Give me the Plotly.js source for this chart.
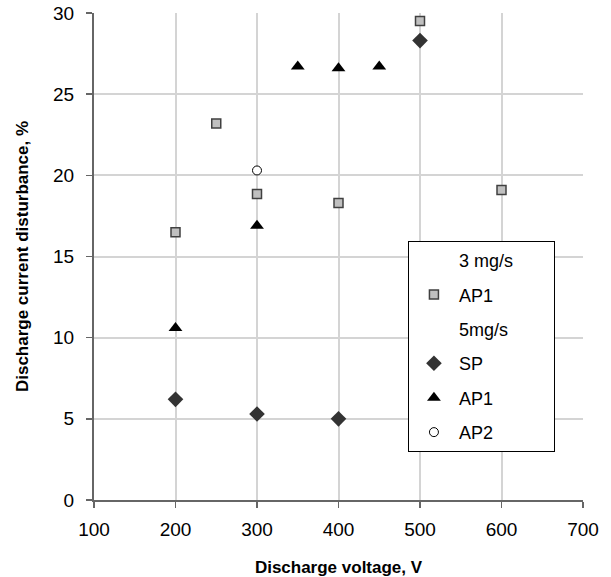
<!DOCTYPE html>
<html><head><meta charset="utf-8">
<script src="https://cdn.plot.ly/plotly-3.0.1.min.js"></script>
<style>body{margin:0;background:#fff}#c{width:611px;height:577px}</style>
</head><body><div id="c"></div>
<script>
const ap1_3_x = [200, 250, 300, 400, 500, 600];
const ap1_3_y = [16.5, 23.2, 18.85, 18.3, 29.5, 19.1];
const sp_5_x = [200, 300, 400, 500];
const sp_5_y = [6.2, 5.3, 5.0, 28.3];
const ap1_5_x = [200, 300, 350, 400, 450];
const ap1_5_y = [10.6, 16.9, 26.7, 26.6, 26.7];
const ap2_5_x = [300];
const ap2_5_y = [20.3];
const xTicks = [100, 200, 300, 400, 500, 600, 700];
const yTicks = [0, 5, 10, 15, 20, 25, 30];

const blank = {color: 'rgba(0,0,0,0)', size: 1, line: {width: 0}};
const traces = [
  {x: [null], y: [null], mode: 'markers', name: '3 mg/s\u00a0\u00a0\u00a0\u00a0\u00a0\u00a0\u00a0', marker: blank, legendgroup: 'a'},
  {x: ap1_3_x, y: ap1_3_y, mode: 'markers', name: 'AP1', legendgroup: 'b',
   marker: {symbol: 'square', size: 9, color: '#c0c0c0', line: {color: '#404040', width: 1.5}}},
  {x: [null], y: [null], mode: 'markers', name: '5mg/s', marker: blank, legendgroup: 'c'},
  {x: sp_5_x, y: sp_5_y, mode: 'markers', name: 'SP', legendgroup: 'd',
   marker: {symbol: 'diamond', size: 12, color: '#333333', line: {color: '#333333', width: 0}}},
  {x: ap1_5_x, y: ap1_5_y, mode: 'markers', name: 'AP1', legendgroup: 'e',
   marker: {symbol: 'triangle-up', size: 12, color: '#000000', line: {width: 0}}},
  {x: ap2_5_x, y: ap2_5_y, mode: 'markers', name: 'AP2', legendgroup: 'f',
   marker: {symbol: 'circle', size: 9, color: '#ffffff', line: {color: '#000000', width: 1}}}
];

const layout = {
  width: 611, height: 577,
  margin: {l: 94, r: 28, t: 13, b: 77},
  paper_bgcolor: '#fff', plot_bgcolor: '#fff',
  font: {family: 'Liberation Sans, Arial, sans-serif', color: '#000', size: 18},
  showlegend: true,
  legend: {x: 0.642, y: 0.532, xanchor: 'left', yanchor: 'top',
    bordercolor: '#000', borderwidth: 1, bgcolor: '#fff',
    font: {size: 18}, tracegroupgap: 8, traceorder: 'grouped', itemwidth: 40},
  xaxis: {range: [100, 700], tickvals: xTicks, ticktext: xTicks.map(String),
    tickfont: {size: 19},
    showgrid: true, gridcolor: '#d4d4d4', gridwidth: 2,
    showline: true, linecolor: '#666', linewidth: 2,
    ticks: 'outside', ticklen: 6, tickcolor: '#666', tickwidth: 1.5, zeroline: false,
    ticklabelstandoff: 5,
    title: {text: '<b>Discharge voltage, V</b>', font: {size: 17}, standoff: 23}},
  yaxis: {range: [0, 30], tickvals: yTicks, ticktext: yTicks.map(String),
    tickfont: {size: 19},
    showgrid: true, gridcolor: '#d4d4d4', gridwidth: 2,
    showline: true, linecolor: '#666', linewidth: 2,
    ticks: 'outside', ticklen: 6, tickcolor: '#666', tickwidth: 1.5, zeroline: false,
    ticklabelstandoff: 8,
    title: {text: '<b>Discharge current disturbance, %</b>', font: {size: 17}, standoff: 20}}
};
Plotly.newPlot('c', traces, layout, {displayModeBar: false, staticPlot: true});
</script></body></html>
